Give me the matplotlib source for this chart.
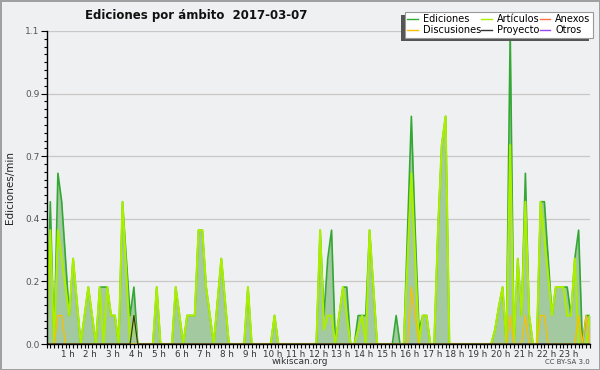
import matplotlib
matplotlib.use('Agg')
import numpy as np
import matplotlib.pyplot as plt
from matplotlib.ticker import FixedLocator, MultipleLocator
from matplotlib.patches import Rectangle
from matplotlib.transforms import IdentityTransform

# one point every 10 minutes, values in edits/min
ediciones = [0, .5, 0, .6, .5, .3,   .1, .3, .15, 0, .1, .2,   .1, 0, .2, .2, .2, .1,
             .1, 0, .5, .3, .1, .2,  0, 0, 0, 0, 0, .2,        0, 0, 0, 0, .2, .1,
             0, .1, .1, .1, .4, .4,  .2, .1, 0, .15, .3, .15,  0, 0, 0, 0, 0, .2,
             0, 0, 0, 0, 0, 0,       .1, 0, 0, 0, 0, 0,        0, 0, 0, 0, 0, 0,
             .4, .1, .3, .4, 0, .1,  .2, .2, 0, 0, .1, .1,     .1, .4, .2, 0, 0, 0,
             0, 0, .1, 0, 0, .4,     .8, .4, .05, .1, .1, 0,   0, .4, .7, .8, 0, 0,
             0, 0, 0, 0, 0, 0,       0, 0, 0, 0, .05, .13,     .2, 0, 1.1, 0, .3, .1,
             .6, .1, 0, 0, .5, .5,   .3, .1, .2, .2, .2, .2,   .1, .3, .4, 0, .1, .1]

articulos = [0, .4, 0, .4, .3, .2,   .1, .3, .15, 0, .1, .2,   .1, 0, .2, 0, .2, .1,
             .1, 0, .5, .25, 0, .1,  0, 0, 0, 0, 0, .2,        0, 0, 0, 0, .2, .1,
             0, .1, .1, .1, .4, .4,  .2, .1, 0, .15, .3, .15,  0, 0, 0, 0, 0, .2,
             0, 0, 0, 0, 0, 0,       .1, 0, 0, 0, 0, 0,        0, 0, 0, 0, 0, 0,
             .4, .05, .1, .1, 0, .1, .2, .1, 0, 0, .05, .1,    0, .4, .2, 0, 0, 0,
             0, 0, 0, 0, 0, .3,      .6, .3, 0, .1, .1, 0,     0, .4, .7, .8, 0, 0,
             0, 0, 0, 0, 0, 0,       0, 0, 0, 0, .05, .13,     .2, 0, .7, 0, .3, .1,
             .5, .1, 0, 0, .5, .37,  .24, .1, .2, .2, .2, .1,  .1, .3, 0, 0, 0, .1]

anexos = [0.0] * 144
otros = [0.0] * 144

# sparse series: (index of 10-min slot, edits/min)
disc_slots = [3, 4, 96, 97, 122, 126, 130, 131, 140, 142]
disc_vals = [.1, .1, .2, .1, .1, .1, .1, .1, .1, .1]
proy_slots = [23]
proy_vals = [.1]

hour_labels = ['%d h' % h for h in range(1, 24)]

discusiones = np.zeros(144)
discusiones[disc_slots] = disc_vals
proyecto = np.zeros(144)
proyecto[proy_slots] = proy_vals

x = np.arange(144)

fig = plt.figure(figsize=(6, 3.7), dpi=100, facecolor='#eff0f1',
                 edgecolor='#a0a0a0', linewidth=2)
ax = fig.add_axes([46.5/600, 26/370, 543.5/600, 313/370])
ax.set_facecolor('#eff0f1')

ax.fill_between(x, ediciones, color='#a2c9a0', lw=0, zorder=1)
l_ed, = ax.plot(x, ediciones, color='#34a835', lw=1.2, zorder=3)
l_ar, = ax.plot(x, articulos, color='#aaee00', lw=1.5, zorder=4)
l_an, = ax.plot(x, anexos, color='#ff7043', lw=1, zorder=2)
l_di, = ax.plot(x, discusiones, color='#f7c000', lw=1, zorder=5)
l_pr, = ax.plot(x, proyecto, color='#333333', lw=0.9, zorder=5)
l_ot, = ax.plot(x, otros, color='#9b45f0', lw=1, zorder=2)

ax.set_xlim(0, 143)
ax.set_ylim(0, 1.1)

yt = np.arange(6) * 0.22
ax.set_yticks(yt)
ax.set_yticklabels(['%.1f' % v for v in yt])
ax.yaxis.set_minor_locator(MultipleLocator(0.0275))
ax.xaxis.set_major_locator(FixedLocator([6 * h - 0.5 for h in range(1, 24)]))
ax.set_xticklabels(hour_labels)
ax.xaxis.set_minor_locator(MultipleLocator(1))

ax.grid(axis='y', color='#c8c8c8', lw=0.9, zorder=0)
ax.set_axisbelow(True)
for s in ['top', 'right']:
    ax.spines[s].set_visible(False)
for s in ['left', 'bottom']:
    ax.spines[s].set_linewidth(1.0)
    ax.spines[s].set_zorder(6)

ax.tick_params(axis='x', which='major', length=0, pad=4,
               labelsize=6.3, labelcolor='#333333')
ax.tick_params(axis='x', which='minor', length=3, width=0.8)
ax.tick_params(axis='y', which='major', length=4, width=0.8, pad=1,
               labelsize=6.5, labelcolor='#555555')
ax.tick_params(axis='y', which='minor', length=2.5, width=0.8)

fig.text(85/600, 1 - 15/370, 'Ediciones por ámbito  2017-03-07', fontsize=8.5,
         fontweight='bold', va='center', ha='left', color='#111111')
fig.text(10/600, 1 - 188/370, 'Ediciones/min', rotation=90, fontsize=7.5,
         va='center', ha='center', color='#222222')
fig.text(300/600, 1 - 362/370, 'wikiscan.org', fontsize=6.5, ha='center',
         va='center', color='#333333')
fig.text(590/600, 1 - 362/370, 'CC BY-SA 3.0', fontsize=5, ha='right',
         va='center', color='#444444')

handles = [l_ed, l_di, l_ar, l_pr, l_an, l_ot]
labels = ['Ediciones', 'Discusiones', 'Artículos', 'Proyecto', 'Anexos', 'Otros']
leg = fig.legend(handles, labels, loc='upper left', ncol=3, mode='expand',
                 bbox_to_anchor=(405/600, 1 - 12/370, 188/600, 0), fontsize=7,
                 frameon=True, fancybox=False, framealpha=1, borderpad=0.25,
                 labelspacing=0.1, handlelength=1.1, handletextpad=0.5,
                 columnspacing=0.4, borderaxespad=0)
leg.get_frame().set_facecolor('white')
leg.get_frame().set_edgecolor('#999999')
leg.get_frame().set_linewidth(0.8)
leg.set_zorder(10)
for ln in leg.get_lines():
    ln.set_linewidth(1.0)

fig.canvas.draw()
bb = leg.get_window_extent()
fig.add_artist(Rectangle((bb.x0 - 4, bb.y0 - 3), bb.width, bb.height,
                         transform=IdentityTransform(), facecolor='#555555',
                         edgecolor='none', zorder=9))

fig.savefig('out.png', dpi=100, facecolor=fig.get_facecolor(),
            edgecolor=fig.get_edgecolor())
